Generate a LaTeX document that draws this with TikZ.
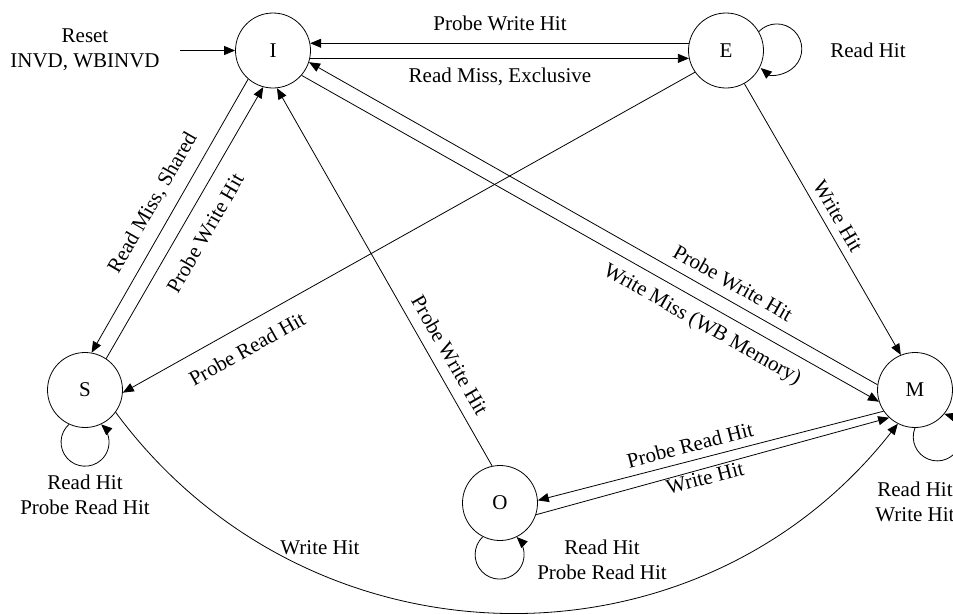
\documentclass[tikz,border=0pt]{standalone}
\usepackage{fontspec}
\setmainfont{Liberation Serif}
\usetikzlibrary{arrows.meta}
\begin{document}
\begin{tikzpicture}[x=1pt,y=-1pt,
  st/.style={circle,draw,line width=0.8pt,minimum size=75pt,inner sep=0pt,font=\fontsize{21}{25}\selectfont},
  lab/.style={inner sep=0pt,align=center,font=\fontsize{21}{25}\selectfont},
  arr/.style={line width=0.8pt,-{Triangle[length=11pt,width=9pt]}}]
\useasboundingbox (0,0) rectangle (953,614);
% states
\node[st] (I) at (273,50.5) {I};
\node[st] (E) at (726,50.5) {E};
\node[st] (S) at (85,390) {S};
\node[st] (M) at (915,390) {M};
\node[st] (O) at (500,503) {O};
% reset
\coordinate (R) at (180,50.5);
\draw[arr] (R) -- (I);
\node[lab] (lreset) at (85,50) {Reset\\INVD, WBINVD};
% I <-> E
\draw[arr] (E.169) -- (I.11);
\draw[arr] (I.-12) -- (E.192);
\node[lab] (lie1) at (500,23) {Probe Write Hit};
\node[lab] (lie2) at (500,77) {Read Miss, Exclusive};
% E self loop
\draw[arr] (E.30) arc[start angle=-136, end angle=130, radius=25];
\node[lab] (lee) at (868,50) {Read Hit};
% I <-> S
\draw[arr] (I.229) -- (S.80);
\draw[arr] (S.56) -- (I.255);
\node[lab,rotate=60] (lis1) at (153,203) {Read Miss, Shared};
\node[lab,rotate=60] (lis2) at (205,233) {Probe Write Hit};
% O -> I
\draw[arr] (O.102) -- (I.-84);
\node[lab,rotate=-60] (loi) at (450,355) {Probe Write Hit};
% E -> S
\draw[arr] (E.215) -- (S.-4.5);
\node[lab,rotate=29.3] (les) at (247,349) {Probe Read Hit};
% E -> M
\draw[arr] (E.-61.5) -- (M.112);
\node[lab,rotate=-60] (lem) at (838,216) {Write Hit};
% I <-> M
\draw[arr] (M.172.5) -- (I.-18.4);
\draw[arr] (I.-41.6) -- (M.198.9);
\node[lab,rotate=-29.6] (lmi) at (733,283) {Probe Write Hit};
\node[lab,rotate=-29.6] (lim) at (702,325) {Write Miss (WB Memory)};
% M <-> O
\draw[arr] (M.214.5) -- (O.4.3);
\draw[arr] (O.-18) -- (M.227.7);
\node[lab,rotate=14.5] (lmo) at (690,445) {Probe Read Hit};
\node[lab,rotate=14.5] (lom) at (705,478) {Write Hit};
% S -> M curve
\draw[arr] (S.-36) .. controls +(193.3,262) and +(-200.9,256.2) .. (M.243);
\node[lab] (lsm) at (320,548) {Write Hit};
% S loop
\draw[arr] (S.245) arc[start angle=228, end angle=-48, radius=24];
\node[lab] (lss) at (85,495) {Read Hit\\Probe Read Hit};
% O loop
\draw[arr] (O.243.4) arc[start angle=226.7, end angle=-45.8, radius=24.5];
\node[lab] (loo) at (602,560) {Read Hit\\Probe Read Hit};
% M loop
\draw[arr] (M.270) arc[start angle=202, end angle=-73, radius=24];
\node[lab] (lmm) at (915,502) {Read Hit\\Write Hit};
\end{tikzpicture}
\end{document}
